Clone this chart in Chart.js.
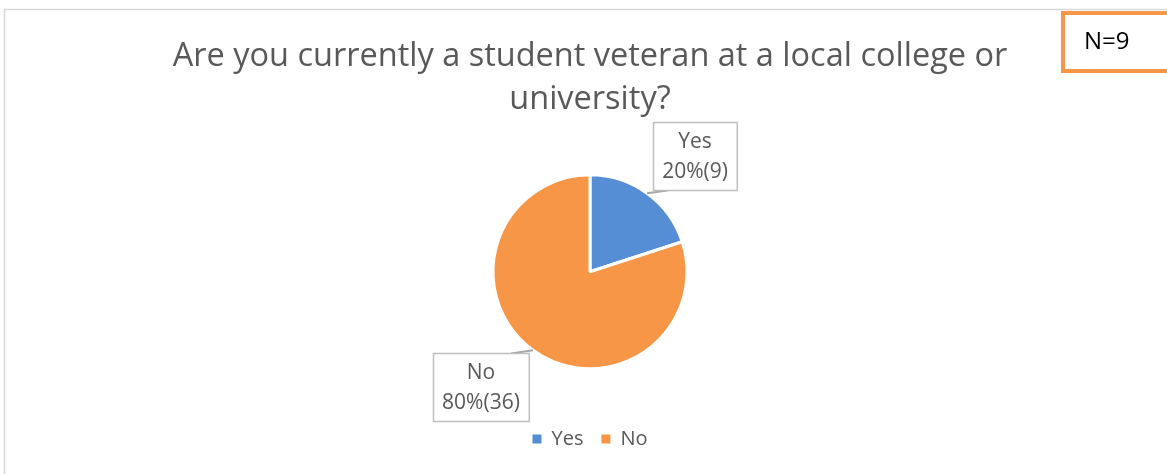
<!DOCTYPE html>
<html>
<head>
<meta charset="utf-8">
<script src="https://cdn.jsdelivr.net/npm/chart.js@4"></script>
<style>
  html, body { margin: 0; padding: 0; background: #fff; }
  #wrap { width: 1167px; height: 474px; }
</style>
</head>
<body>
<div id="wrap"><canvas id="pieChart"></canvas></div>
<script>
const answers = ['Yes', 'No'];
const counts = [9, 36];
const colors = ['#558ed5', '#f79646'];
const titleLines = ['Are you currently a student veteran at a local college or', 'university?'];
const sampleNote = 'N=9';

const total = counts.reduce((a, b) => a + b, 0);
const textFont = '"Open Sans", sans-serif';

// offset of each callout box centre from the arc's outer mid point
const calloutOffsets = [{dx: 48, dy: -37}, {dx: -52, dy: 37}];

const frame = {
  id: 'frame',
  beforeDraw(chart) {
    const c = chart.ctx;
    c.save();
    c.fillStyle = '#fff';
    c.fillRect(0, 0, chart.width, chart.height);
    c.strokeStyle = '#d9d9d9';
    c.lineWidth = 1.5;
    c.strokeRect(4.5, 9.5, chart.width + 20, chart.height + 20);
    c.restore();
  },
  afterDraw(chart) {
    const c = chart.ctx;
    c.save();
    c.fillStyle = '#fff';
    c.fillRect(1063, 13, 120, 58);
    c.strokeStyle = '#f79646';
    c.lineWidth = 4;
    c.strokeRect(1063, 13, 120, 58);
    c.fillStyle = '#000';
    c.font = '24px ' + textFont;
    c.textBaseline = 'middle';
    c.fillText(sampleNote, 1084, 42);
    c.restore();
  }
};

const callouts = {
  id: 'callouts',
  afterDatasetsDraw(chart) {
    const c = chart.ctx;
    const meta = chart.getDatasetMeta(0);
    c.save();
    c.font = '21px ' + textFont;
    meta.data.forEach((arc, i) => {
      const p = arc.getProps(['x', 'y', 'startAngle', 'endAngle', 'outerRadius']);
      const mid = (p.startAngle + p.endAngle) / 2;
      const ax = p.x + Math.cos(mid) * p.outerRadius;
      const ay = p.y + Math.sin(mid) * p.outerRadius;
      const pct = Math.round(counts[i] / total * 100);
      const lines = [answers[i], pct + '%(' + counts[i] + ')'];
      const w = Math.max(...lines.map(t => c.measureText(t).width)) + 18;
      const h = 68;
      const cx = ax + calloutOffsets[i].dx;
      const cy = ay + calloutOffsets[i].dy;
      const left = Math.round(cx - w / 2) + 0.5;
      const top = Math.round(cy - h / 2) + 0.5;

      // leader line from the slice edge to the nearest box edge
      const onRight = calloutOffsets[i].dx > 0;
      const ex = onRight ? left + 14 : left + w - 18;
      const ey = calloutOffsets[i].dy < 0 ? top + h : top;
      c.strokeStyle = '#a6a6a6';
      c.lineWidth = 2;
      c.beginPath();
      c.moveTo(ax, ay);
      c.lineTo(ex, ey);
      c.stroke();

      c.fillStyle = '#fff';
      c.fillRect(left, top, w, h);
      c.strokeStyle = '#bfbfbf';
      c.lineWidth = 1.5;
      c.strokeRect(left, top, w, h);

      c.fillStyle = '#595959';
      c.textAlign = 'center';
      c.textBaseline = 'middle';
      c.fillText(lines[0], cx, top + 20);
      c.fillText(lines[1], cx, top + 50);
    });
    c.restore();
  }
};

const ctx = document.getElementById('pieChart');

new Chart(ctx, {
  type: 'pie',
  data: {
    labels: answers,
    datasets: [{
      data: counts,
      backgroundColor: colors,
      borderColor: '#fff',
      borderWidth: 3
    }]
  },
  options: {
    responsive: true,
    maintainAspectRatio: false,
    animation: false,
    radius: 97,
    layout: { padding: { left: 13, right: 0, top: 0, bottom: 15 } },
    plugins: {
      title: {
        display: true,
        text: titleLines,
        color: '#595959',
        font: { family: textFont, size: 32.5, weight: 'normal', lineHeight: 1.3 },
        padding: { top: 36, bottom: 12 }
      },
      legend: {
        position: 'bottom',
        labels: {
          color: '#595959',
          font: { family: textFont, size: 20 },
          boxWidth: 9,
          boxHeight: 9,
          padding: 18,
          generateLabels(chart) {
            return Chart.overrides.pie.plugins.legend.labels.generateLabels(chart)
              .map(item => ({ ...item, lineWidth: 0 }));
          }
        }
      },
      tooltip: { enabled: false }
    }
  },
  plugins: [frame, callouts]
});
</script>
</body>
</html>
